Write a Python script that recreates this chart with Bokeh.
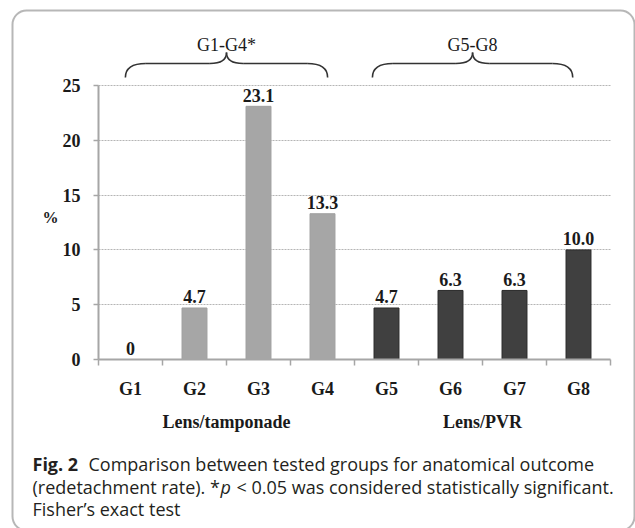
from bokeh.plotting import figure
from bokeh.models import (Range1d, FixedTicker, LinearAxis, ColumnDataSource,
                          BoxAnnotation, Grid)
from bokeh.core.properties import value
from bokeh.transform import factor_cmap
from bokeh.embed import file_html
from bokeh.resources import INLINE

# ---------------- data ----------------
groups = ["G1", "G2", "G3", "G4", "G5", "G6", "G7", "G8"]
rates = [0, 4.7, 23.1, 13.3, 4.7, 6.3, 6.3, 10.0]
rate_labels = ["0", "4.7", "23.1", "13.3", "4.7", "6.3", "6.3", "10.0"]
sets = ["Lens/tamponade"] * 4 + ["Lens/PVR"] * 4
set_names = ["Lens/tamponade", "Lens/PVR"]
brace_labels = ["G1-G4*", "G5-G8"]
y_ticks = [0, 5, 10, 15, 20, 25]
y_label = "%"
cap_bold = "Fig. 2"
cap_line1 = "Comparison between tested groups for anatomical outcome"
cap_line2a = "(redetachment rate). *"
cap_line2_it = "p"
cap_line2b = "< 0.05 was considered statistically significant."
cap_line3 = "Fisher\u2019s exact test"

# ---------------- geometry (pixels -> data) ----------------
W, H = 635, 528
X0, XS = 98.0, 64.0      # px of x = 0, px per category
Y0, YS = 359.0, 10.96    # px of y = 0, px per percent


def fx(px):
    return (px - X0) / XS


def fy(py):
    return (Y0 - py) / YS


SERIF = value("Liberation Serif")
SANS = value("Open Sans")
TXT = "#1a1a1a"

p = figure(width=W, height=H, output_backend="svg", toolbar_location=None,
           x_range=Range1d(fx(0), fx(W)), y_range=Range1d(fy(H), fy(0)),
           x_axis_type=None, y_axis_type=None, min_border=0)
p.outline_line_color = None
p.background_fill_color = "white"

n = len(groups)
centers = [i + 0.5 for i in range(n)]
ymax = max(y_ticks)

# grid lines
grid = Grid(dimension=1, ticker=FixedTicker(ticks=y_ticks[1:]),
            grid_line_color="#b5b5b5", grid_line_dash="2 1", grid_line_width=1)
if "cross_bounds" in Grid.properties():
    grid.cross_bounds = (0, n)
p.add_layout(grid, "center")

# bars
src = ColumnDataSource(dict(x=centers, top=rates, label=rate_labels, set=sets, g=groups))
p.vbar(x="x", top="top", width=0.39, source=src,
       fill_color=factor_cmap("set", ["#a6a6a6", "#404040"], set_names),
       line_color=factor_cmap("set", ["#a0a0a0", "#2a2a2a"], set_names),
       line_width=1)
p.text(x="x", y="top", text="label", source=src, y_offset=-11,
       text_align="center", text_baseline="alphabetic", text_font=SERIF,
       text_font_style="bold", text_font_size="18px", text_color=TXT)

# axes
yaxis = LinearAxis(fixed_location=0, bounds=(0, ymax),
                   ticker=FixedTicker(ticks=y_ticks))
yaxis.axis_line_color = "#a6a6a6"
yaxis.axis_line_width = 2
yaxis.major_tick_line_color = "#a6a6a6"
yaxis.major_tick_line_width = 1.5
yaxis.major_tick_out = 5
yaxis.major_tick_in = 0
yaxis.minor_tick_line_color = None
yaxis.major_label_standoff = 13
yaxis.major_label_text_font = "Liberation Serif"
yaxis.major_label_text_font_style = "bold"
yaxis.major_label_text_font_size = "18px"
yaxis.major_label_text_color = TXT
p.add_layout(yaxis, "left")

xaxis = LinearAxis(fixed_location=0, bounds=(0, n),
                   ticker=FixedTicker(ticks=centers, minor_ticks=list(range(n + 1))),
                   major_label_overrides={c: g for c, g in zip(centers, groups)})
xaxis.axis_line_color = "#a6a6a6"
xaxis.axis_line_width = 2
xaxis.major_tick_line_color = None
xaxis.major_tick_out = 6
xaxis.major_tick_in = 0
xaxis.minor_tick_line_color = "#a6a6a6"
xaxis.minor_tick_line_width = 1.5
xaxis.minor_tick_out = 6
xaxis.minor_tick_in = 0
xaxis.major_label_standoff = 13
xaxis.major_label_text_font = "Liberation Serif"
xaxis.major_label_text_font_style = "bold"
xaxis.major_label_text_font_size = "18px"
xaxis.major_label_text_color = TXT
p.add_layout(xaxis, "below")

# y label
p.text(x=[fx(50)], y=[fy(217)], text=[y_label], text_align="center",
       text_baseline="middle", text_font=SERIF, text_font_style="bold",
       text_font_size="16px", text_color=TXT)

# group labels under axis
set_x = [sum(c for c, s in zip(centers, sets) if s == name) /
         sum(1 for s in sets if s == name) for name in set_names]
p.text(x=set_x, y=[0, 0], text=set_names, y_offset=62, text_align="center",
       text_baseline="alphabetic", text_font=SERIF, text_font_style="bold",
       text_font_size="18px", text_color=TXT)

# braces above the chart (ends given as insets from each group's edges)
brace_insets = [(0.42, 0.42), (0.28, 0.59)]
spans = []
for name, (il, ir) in zip(set_names, brace_insets):
    idx = [i for i, s in enumerate(sets) if s == name]
    spans.append((min(idx) + il, max(idx) + 1 - ir))
r1, r2 = 0.32, 0.26          # curl widths (data units)
yE = ymax + 8 / YS
yHh = ymax + 22 / YS
yT = ymax + 33 / YS
bx0, by0, bx1, by1, bcx0, bcy0, bcx1, bcy1 = ([] for _ in range(8))
sx0, sy0, sx1, sy1 = [], [], [], []
for (xl, xr) in spans:
    xm = (xl + xr) / 2
    # left end curl
    bx0 += [xl]; by0 += [yE]; bx1 += [xl + r1]; by1 += [yHh]
    bcx0 += [xl]; bcy0 += [yE + 0.6 * (yHh - yE)]; bcx1 += [xl + 0.25 * r1]; bcy1 += [yHh]
    # right end curl
    bx0 += [xr]; by0 += [yE]; bx1 += [xr - r1]; by1 += [yHh]
    bcx0 += [xr]; bcy0 += [yE + 0.6 * (yHh - yE)]; bcx1 += [xr - 0.25 * r1]; bcy1 += [yHh]
    # tip left
    bx0 += [xm - r2]; by0 += [yHh]; bx1 += [xm]; by1 += [yT]
    bcx0 += [xm - 0.35 * r2]; bcy0 += [yHh]; bcx1 += [xm]; bcy1 += [yHh + 0.35 * (yT - yHh)]
    # tip right
    bx0 += [xm + r2]; by0 += [yHh]; bx1 += [xm]; by1 += [yT]
    bcx0 += [xm + 0.35 * r2]; bcy0 += [yHh]; bcx1 += [xm]; bcy1 += [yHh + 0.35 * (yT - yHh)]
    # straight parts
    sx0 += [xl + r1, xm + r2]; sx1 += [xm - r2, xr - r1]
    sy0 += [yHh, yHh]; sy1 += [yHh, yHh]
p.bezier(x0=bx0, y0=by0, x1=bx1, y1=by1, cx0=bcx0, cy0=bcy0, cx1=bcx1, cy1=bcy1,
         line_color="#333333", line_width=1.6)
p.segment(x0=sx0, y0=sy0, x1=sx1, y1=sy1, line_color="#333333", line_width=1.6)
p.text(x=[(a + b) / 2 for a, b in spans], y=[ymax, ymax], text=brace_labels,
       y_offset=-41, text_align="center", text_baseline="alphabetic",
       text_font=SERIF, text_font_size="18px", text_color=TXT)

# caption
cap_kw = dict(text_baseline="alphabetic", text_font=SANS, text_font_size="18px",
              text_color="#231f20")
p.text(x=[fx(32)], y=[fy(463)], text=[cap_bold], text_font_style="bold", **cap_kw)
p.text(x=[fx(88)], y=[fy(463)], text=[cap_line1], **cap_kw)
p.text(x=[fx(32)], y=[fy(486)], text=[cap_line2a], **cap_kw)
p.text(x=[fx(220)], y=[fy(486)], text=[cap_line2_it], text_font_style="italic", **cap_kw)
p.text(x=[fx(236)], y=[fy(486)], text=[cap_line2b], **cap_kw)
p.text(x=[fx(32)], y=[fy(508)], text=[cap_line3], **cap_kw)

# rounded frame around the figure (bottom edge lies just past the canvas)
p.add_layout(BoxAnnotation(left=fx(12), right=fx(634), top=fy(10), bottom=fy(530),
                           fill_color=None, fill_alpha=0, line_color="#111111",
                           line_width=2, border_radius=14, level="overlay"))

open("out.html", "w").write(file_html(p, INLINE))
